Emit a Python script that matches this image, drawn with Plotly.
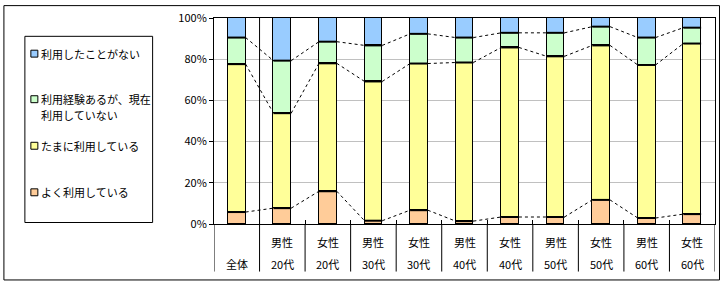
import numpy as np
import plotly.graph_objects as go

# ---- data ----
row1_labels = ["", "男性", "女性", "男性", "女性", "男性", "女性", "男性", "女性", "男性", "女性"]
row2_labels = ["全体", "20代", "20代", "30代", "30代", "40代", "40代", "50代", "50代", "60代", "60代"]
series_names = ["よく利用している", "たまに利用している", "利用経験あるが、現在利用していない", "利用したことがない"]
legend_lines = [["よく利用している"], ["たまに利用している"], ["利用経験あるが、現在", "利用していない"], ["利用したことがない"]]
often = [5.8, 7.7, 15.9, 1.6, 6.7, 1.4, 3.4, 3.4, 11.7, 2.9, 4.8]
sometimes = [71.8, 46.1, 62.1, 67.6, 71.2, 77.0, 82.3, 78.0, 75.0, 74.3, 82.8]
used_before = [12.9, 25.5, 10.5, 17.5, 14.4, 12.1, 7.1, 11.4, 9.1, 13.3, 7.7]
never = [9.5, 20.7, 11.5, 13.3, 7.7, 9.5, 7.2, 7.2, 4.2, 9.5, 4.7]
colors = ["#FFCC99", "#FFFF99", "#CCFFCC", "#99CCFF"]
y_ticks = [0, 20, 40, 60, 80, 100]

# ---- layout geometry (pixels) ----
W, H = 725, 287
L, R, T, B = 214, 716, 16, 224
FONT = "Noto Sans CJK JP"


def px_x(p):
    return (p - L) / (R - L)


def px_y(p):
    return (B - p) / (B - T)


n = len(row2_labels)
xs = list(range(n))
bar_w = 0.39
data = [often, sometimes, used_before, never]

fig = go.Figure()
for vals, name, col in zip(data, series_names, colors):
    fig.add_trace(go.Bar(x=xs, y=vals, name=name, width=bar_w,
                         marker=dict(color=col, line=dict(color="black", width=1)),
                         showlegend=False))

cum = np.cumsum(np.array(data[:3]), axis=0)
# series lines connecting segment tops
for row in cum:
    lx, ly = [], []
    for i in range(n - 1):
        lx += [xs[i] + bar_w / 2, xs[i + 1] - bar_w / 2, None]
        ly += [row[i], row[i + 1], None]
    fig.add_trace(go.Scatter(x=lx, y=ly, mode="lines", showlegend=False, hoverinfo="skip",
                             line=dict(color="black", width=1, dash="3px,3px")))
# thicker segment boundaries
for row in cum:
    bx, by = [], []
    for i in range(n):
        bx += [xs[i] - bar_w / 2, xs[i] + bar_w / 2, None]
        by += [row[i], row[i], None]
    fig.add_trace(go.Scatter(x=bx, y=by, mode="lines", showlegend=False, hoverinfo="skip",
                             line=dict(color="black", width=2)))

shapes = []
# outer border
shapes.append(dict(type="rect", xref="paper", yref="paper",
                   x0=px_x(3.5), x1=px_x(720.5), y0=px_y(280.5), y1=px_y(3.5),
                   line=dict(color="black", width=1), fillcolor="rgba(0,0,0,0)", layer="below"))
# category dividers in label area
div_bottom = px_y(272)
for i in range(-1, n):
    xv = i + 0.5
    y1 = 1 if i == 0 else 0
    shapes.append(dict(type="line", xref="x", yref="paper", x0=xv, x1=xv,
                       y0=div_bottom, y1=y1, line=dict(color="black", width=1)))
# legend box
shapes.append(dict(type="rect", xref="paper", yref="paper",
                   x0=px_x(24.5), x1=px_x(152.5), y0=px_y(222.5), y1=px_y(34.5),
                   line=dict(color="black", width=1), fillcolor="white"))

annotations = []
# category labels
for i in range(n):
    if row1_labels[i]:
        annotations.append(dict(x=xs[i], y=px_y(242), xref="x", yref="paper", text=row1_labels[i],
                                showarrow=False, xanchor="center", yanchor="middle",
                                font=dict(family=FONT, size=11, color="black")))
    annotations.append(dict(x=xs[i], y=px_y(264), xref="x", yref="paper", text=row2_labels[i],
                            showarrow=False, xanchor="center", yanchor="middle",
                            font=dict(family=FONT, size=11, color="black")))

# manual legend (top to bottom: never, used_before, sometimes, often)
leg_y = [52, 98, 145, 192]
for idx, yy in zip([3, 2, 1, 0], leg_y):
    shapes.append(dict(type="rect", xref="paper", yref="paper",
                       x0=px_x(30.5), x1=px_x(37.5), y0=px_y(yy + 3.5), y1=px_y(yy - 3.5),
                       line=dict(color="black", width=1), fillcolor=colors[idx]))
    for k, line_text in enumerate(legend_lines[idx]):
        annotations.append(dict(x=px_x(39), y=px_y(yy + 16 * k), xref="paper", yref="paper",
                                text=line_text, showarrow=False, xanchor="left", yanchor="middle",
                                align="left", font=dict(family=FONT, size=11, color="black")))

fig.update_layout(
    width=W, height=H,
    margin=dict(l=L, r=W - R, t=T, b=H - B),
    paper_bgcolor="white", plot_bgcolor="white",
    barmode="stack", bargap=0,
    font=dict(family=FONT, size=11, color="black"),
    shapes=shapes, annotations=annotations,
    xaxis=dict(range=[-0.5, n - 0.5], showgrid=False, zeroline=False,
               showline=True, linecolor="black", linewidth=1, mirror=True,
               tickvals=[i + 0.5 for i in range(n - 1)], ticktext=[""] * (n - 1),
               ticks="inside", ticklen=4, tickcolor="black", showticklabels=False),
    yaxis=dict(range=[0, 100], tickvals=y_ticks, ticktext=[f"{v}%" for v in y_ticks],
               showgrid=True, gridcolor="#C0C0C0", gridwidth=1, zeroline=False,
               showline=True, linecolor="black", linewidth=1, mirror=True,
               ticks="outside", ticklen=4, tickcolor="black",
               tickfont=dict(family=FONT, size=11, color="black")),
)

fig.write_html("out.html", config={"displayModeBar": False},
               post_script="document.body.style.margin='0';document.body.style.overflow='hidden';")
